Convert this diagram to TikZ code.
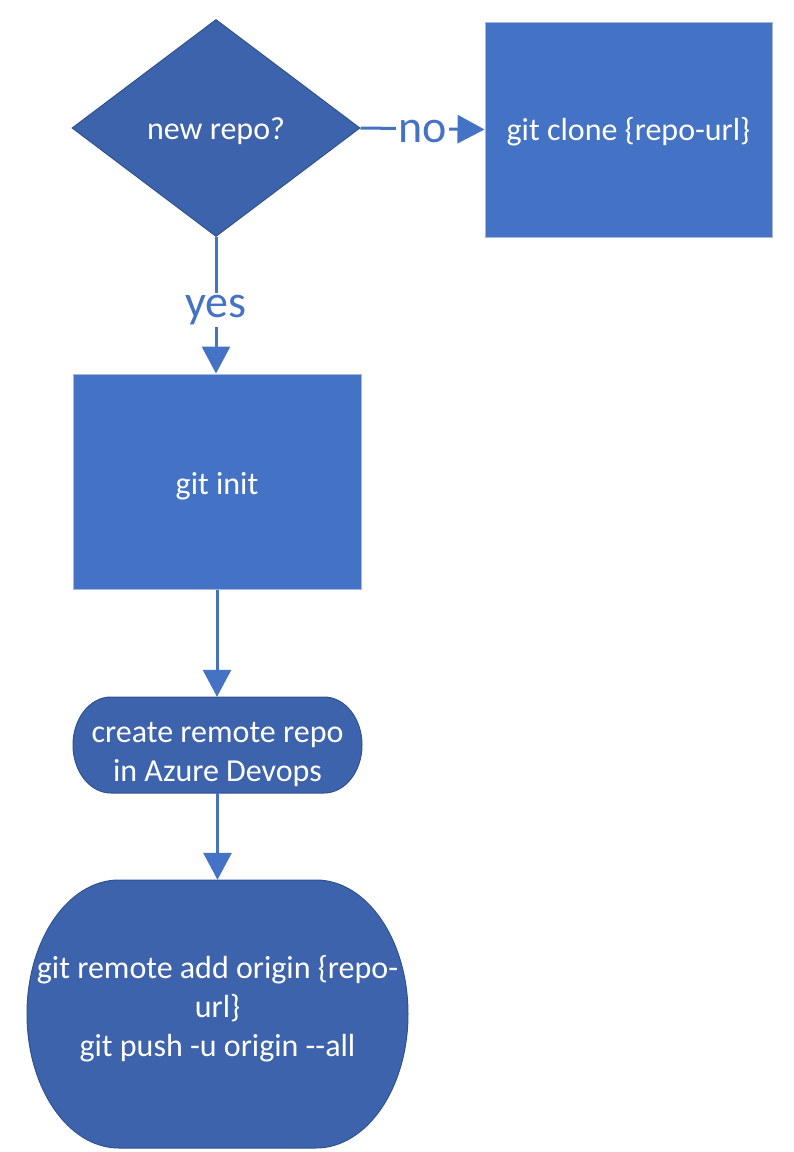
\documentclass[tikz,border=0pt]{standalone}
\usepackage{fontspec}
\setmainfont{Carlito}
\usetikzlibrary{shapes.geometric,arrows.meta}
\definecolor{boxblue}{HTML}{4472C4}
\definecolor{darkfill}{HTML}{3D63AD}
\definecolor{darkedge}{HTML}{2F528F}
\definecolor{lightedge}{HTML}{A3B8E0}
\tikzset{
  x=1pt, y=-1pt,
  boxtext/.style={text=white, font=\fontsize{32}{39}\selectfont, align=center},
  rectbox/.style={boxtext, rectangle, fill=boxblue, draw=lightedge, line width=1pt, inner sep=0pt},
  decision/.style={boxtext, diamond, fill=darkfill, draw=darkedge, line width=1pt, inner sep=0pt, aspect=1.327},
  termtext/.style={boxtext, rectangle, inner sep=0pt},
  termfill/.style={fill=darkfill, draw=darkedge, line width=1pt},
  flow/.style={draw=boxblue, line width=3pt, -{Triangle[length=27pt,width=28pt]}},
  flowlabel/.style={text=boxblue, fill=white, inner sep=2pt, font=\fontsize{46}{50}\selectfont}
}
\begin{document}
\begin{tikzpicture}
\useasboundingbox (0,0) rectangle (794,1152);
\fill[white] (0,0) rectangle (794,1152);

% decision
\node[decision, minimum width=288pt, minimum height=217pt] (newrepo) at (216,128) {\rule{0pt}{28pt}new repo?};

% clone
\node[rectbox, minimum width=287pt, minimum height=215pt] (clone) at (628.5,129.5) {\rule{0pt}{27pt}git clone \{repo-url\}};

% init
\node[rectbox, minimum width=288pt, minimum height=215pt] (init) at (217,481.5) {\rule{0pt}{31pt}git init};

% create remote (terminator)
\path[termfill] (111,697) -- (324,697)
  arc[start angle=90, end angle=-90, x radius=38pt, y radius=48pt]
  -- (111,793)
  arc[start angle=270, end angle=90, x radius=38pt, y radius=48pt] -- cycle;
\node[termtext, minimum width=289pt, minimum height=96pt] (create) at (217.5,745) {\rule{0pt}{39pt}create remote repo\\in Azure Devops};

% push (terminator)
\path[termfill] (119,880) -- (316,880)
  arc[start angle=90, end angle=-90, x radius=92pt, y radius=134pt]
  -- (119,1148)
  arc[start angle=270, end angle=90, x radius=92pt, y radius=134pt] -- cycle;
\node[termtext, minimum width=381pt, minimum height=268pt] (push) at (217.5,1014) {git remote add origin \{repo-\\url\}\\git push -u origin -{}-all\rule[-16pt]{0pt}{0pt}};

% connectors
\draw[flow] (newrepo.east) -- node[flowlabel, pos=0.5, yshift=-3pt] {no} (clone.west);
\draw[flow] (newrepo.south) -- node[flowlabel, pos=0.5, yshift=-5pt] {yes} (newrepo.south |- init.north);
\draw[flow] (init.south) -- (init.south |- create.north);
\draw[flow] (create.south) -- (create.south |- push.north);
\end{tikzpicture}
\end{document}
